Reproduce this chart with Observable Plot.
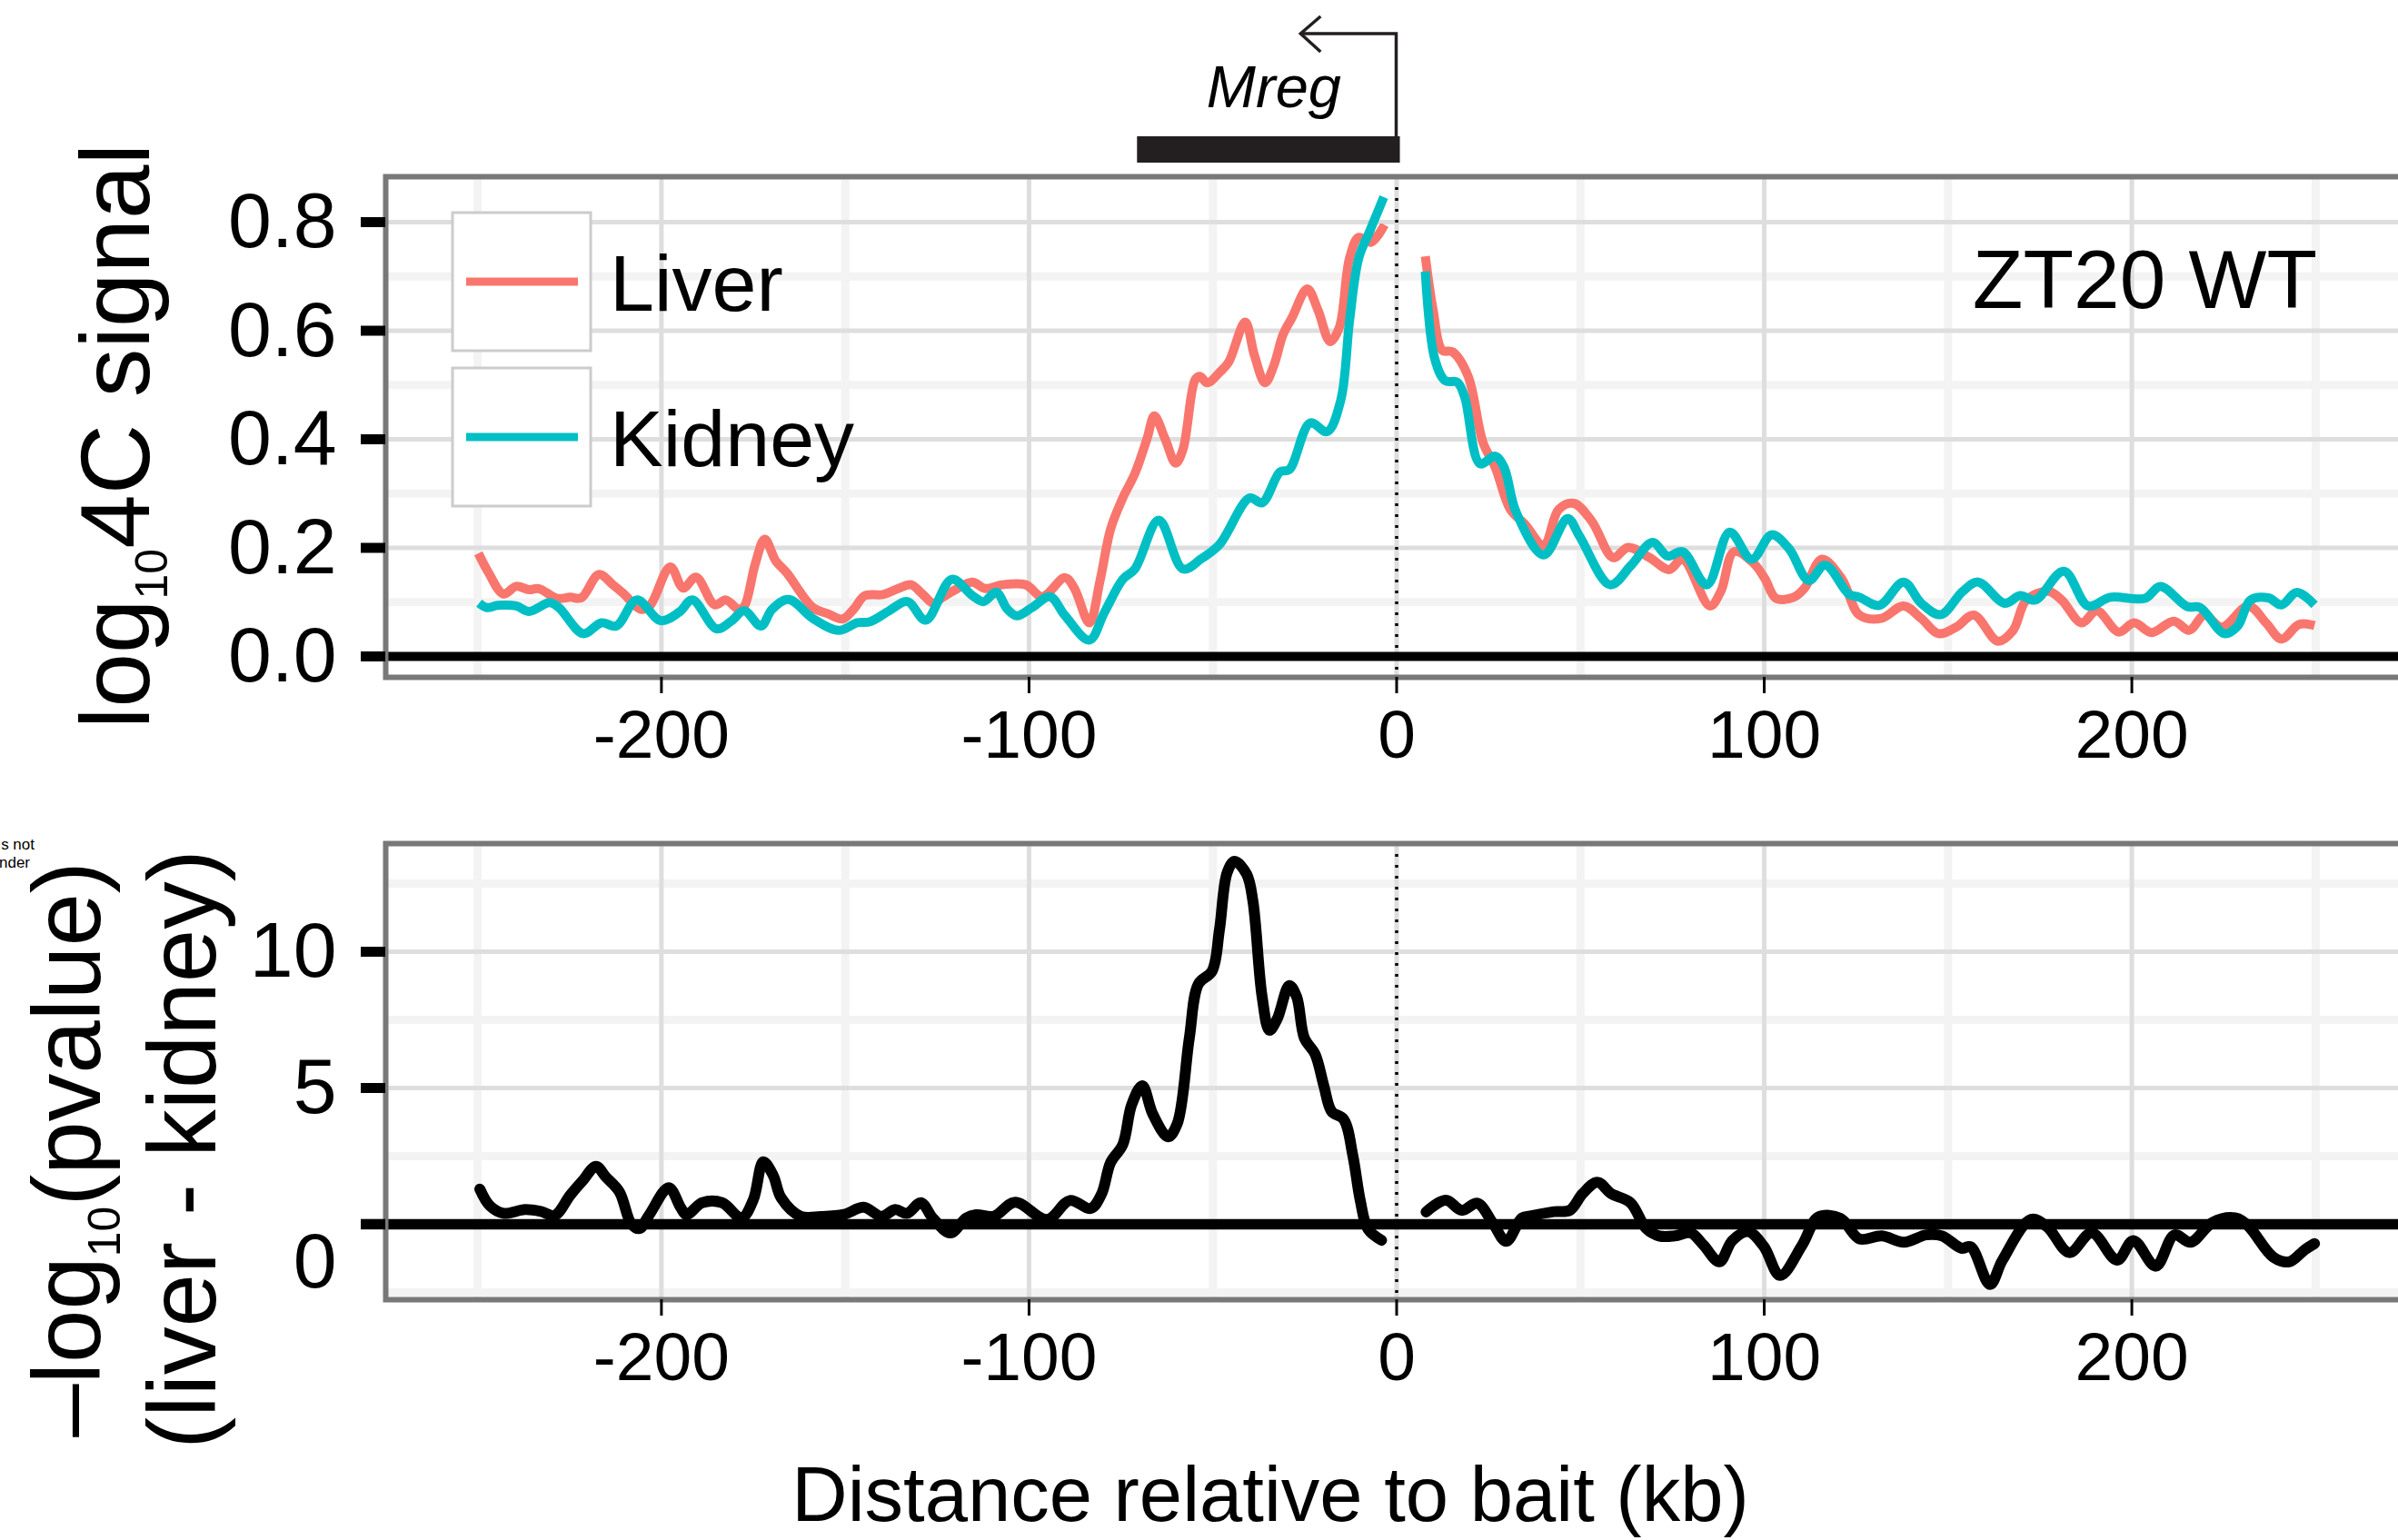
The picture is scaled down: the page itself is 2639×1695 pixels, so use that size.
<!DOCTYPE html>
<html>
<head>
<meta charset="utf-8">
<script src="https://cdn.jsdelivr.net/npm/d3@7"></script>
<script src="https://cdn.jsdelivr.net/npm/@observablehq/plot@0.6"></script>
<style>
  html, body { margin: 0; padding: 0; background: #fff; overflow: hidden; width: 2639px; height: 1695px; }
  #top { position: absolute; left: 0; top: 0; }
  #bottom { position: absolute; left: 0; top: 850px; }
</style>
</head>
<body>
<div id="top"></div>
<div id="bottom"></div>
<script>
// ---------------- DATA ----------------
const seriesNames = ["Liver", "Kidney"];
const seriesColors = ["#F8766D", "#00BFC4"];
const panelLabel = "ZT20 WT";

const xMajor = [-200, -100, 0, 100, 200];
const xMinor = [-250, -150, -50, 50, 150, 250];
const topYMajor = [0, 0.2, 0.4, 0.6, 0.8];
const topYMinor = [0.1, 0.3, 0.5, 0.7];
const botYMajor = [0, 5, 10];
const botYMinor = [-2.5, 2.5, 7.5, 12.5];

// gene annotation (kb relative to bait)
const gene = { name: "Mreg", start: -70.5, end: 1.0, tss: 0, arrowLen: 26 };

// log10 4C signal, Liver (left and right of the bait)
const liverLeft = [
  [-249.8,0.190],[-247,0.154],[-243,0.115],[-239.5,0.129],[-236,0.123],[-233.4,0.125],[-228.4,0.107],
  [-224.8,0.109],[-221.8,0.108],[-217,0.151],[-213.2,0.132],[-210.2,0.115],[-205.7,0.087],[-203.2,0.093],
  [-197.6,0.165],[-194.1,0.126],[-190.6,0.146],[-185.5,0.095],[-182.5,0.104],[-179,0.087],[-177.5,0.092],
  [-174.5,0.170],[-171.9,0.216],[-168.9,0.176],[-165.9,0.154],[-158.8,0.090],[-154.8,0.079],[-150.7,0.069],
  [-147.7,0.087],[-144.7,0.112],[-139.7,0.114],[-135.6,0.125],[-132.1,0.132],[-129,0.115],[-126,0.098],
  [-123.5,0.109],[-120,0.123],[-115.4,0.137],[-111.9,0.125],[-107.4,0.132],[-100.9,0.132],[-96.4,0.110],
  [-90.2,0.145],[-87.7,0.126],[-83.6,0.062],[-80.7,0.139],[-77.8,0.235],[-74.5,0.292],[-71.2,0.337],
  [-67.9,0.401],[-65.9,0.443],[-63,0.401],[-60.1,0.356],[-58.1,0.382],[-54.8,0.510],[-53.5,0.516],
  [-51.5,0.504],[-48.2,0.523],[-45.7,0.542],[-41.2,0.616],[-38.7,0.555],[-35.8,0.504],[-33.4,0.536],
  [-30.9,0.593],[-28.4,0.625],[-24.3,0.677],[-21.4,0.638],[-18.1,0.580],[-15.6,0.606],[-12.8,0.734],
  [-10.3,0.772],[-7,0.763],[-3.3,0.795]
];
const liverRight = [
  [7.8,0.737],[9.9,0.639],[12.4,0.564],[15.2,0.561],[19.4,0.517],[23.5,0.394],[26.8,0.349],[30.9,0.271],
  [35,0.243],[40,0.204],[44.1,0.271],[48.2,0.282],[53.1,0.249],[58.9,0.182],[63,0.201],[68.8,0.182],
  [74.1,0.160],[77.8,0.179],[85.2,0.093],[88.2,0.120],[91.8,0.193],[97.2,0.171],[100.2,0.143],[103.2,0.107],
  [108,0.109],[111,0.126],[115.7,0.179],[121.1,0.143],[125.9,0.076],[131.8,0.070],[137.9,0.093],[142.7,0.070],
  [147.4,0.042],[152.2,0.054],[157,0.076],[163.6,0.028],[167.7,0.048],[171.3,0.104],[177.3,0.120],[180.9,0.104],
  [186.3,0.062],[190.5,0.084],[196.4,0.045],[200.6,0.062],[205.4,0.044],[211.4,0.065],[215.6,0.048],[219.8,0.076],
  [224.5,0.054],[231.7,0.093],[236.5,0.062],[240.7,0.032],[245.5,0.059],[249.7,0.057]
];
// Kidney
const kidneyLeft = [
  [-249.6,0.098],[-247.5,0.090],[-244.5,0.094],[-239.5,0.093],[-236,0.083],[-230.4,0.099],[-227.9,0.090],
  [-221.3,0.042],[-216.3,0.062],[-212.3,0.056],[-206.7,0.104],[-200.2,0.066],[-195.1,0.082],[-191.6,0.104],
  [-185,0.051],[-181,0.065],[-177.5,0.084],[-172.9,0.056],[-169.9,0.087],[-165.4,0.105],[-158.8,0.070],
  [-151.8,0.048],[-146.7,0.062],[-143.2,0.064],[-138.1,0.084],[-133.1,0.101],[-128.1,0.067],[-121,0.142],
  [-115.4,0.112],[-112.4,0.101],[-108.9,0.118],[-105.9,0.087],[-103.3,0.075],[-99.2,0.090],[-94.3,0.110],
  [-90.2,0.075],[-83.6,0.030],[-79.5,0.081],[-74.5,0.142],[-71.2,0.161],[-64.7,0.251],[-58.1,0.161],
  [-53.1,0.180],[-48.2,0.206],[-40,0.292],[-36.6,0.283],[-31.7,0.340],[-29.2,0.344],[-23.5,0.430],
  [-18.9,0.414],[-15.2,0.472],[-12.8,0.619],[-10.3,0.734],[-7.4,0.782],[-3.5,0.846]
];
const kidneyRight = [
  [7.8,0.709],[10.3,0.550],[13.2,0.508],[16.5,0.505],[18.5,0.478],[22.7,0.355],[26.8,0.369],[29.2,0.349],
  [32.5,0.266],[40,0.187],[46.5,0.254],[49.8,0.221],[58.1,0.132],[63.8,0.168],[69.6,0.210],[73.7,0.185],
  [77.8,0.193],[84.4,0.132],[90.6,0.229],[96.6,0.179],[102,0.224],[106.7,0.199],[112.1,0.140],[116.6,0.168],
  [123,0.115],[125.9,0.109],[131.3,0.094],[137.9,0.137],[142.7,0.098],[148,0.077],[154,0.120],[158.2,0.137],
  [165.4,0.098],[169.6,0.112],[173.7,0.104],[181.5,0.157],[188.1,0.093],[194.1,0.109],[203.6,0.107],[207.8,0.129],
  [215,0.092],[218.6,0.090],[225.2,0.042],[228.8,0.056],[232.3,0.104],[237.1,0.108],[240.7,0.095],[244.9,0.118],
  [249.7,0.095]
];
// -log10(pvalue) (liver - kidney)
const pvalLeft = [
  [-249.4,1.29],[-246.7,0.68],[-243,0.40],[-237.1,0.54],[-232.8,0.47],[-229.1,0.32],[-224.8,1.07],[-221.6,1.57],
  [-217.8,2.12],[-215.1,1.73],[-211.4,1.18],[-208.2,0.01],[-206,-0.16],[-203.3,0.35],[-198,1.34],[-194.8,0.62],
  [-193.2,0.35],[-188.9,0.79],[-183.5,0.79],[-178.2,0.23],[-175,0.90],[-172.3,2.29],[-169.6,1.79],[-167.4,0.96],
  [-162.1,0.29],[-156.7,0.28],[-150.3,0.36],[-145,0.62],[-140.1,0.29],[-136.4,0.54],[-133.2,0.40],[-129.4,0.79],
  [-126.2,0.23],[-121.4,-0.32],[-117.1,0.23],[-114.4,0.35],[-109.6,0.29],[-103.8,0.81],[-95.1,0.17],[-88.9,0.87],
  [-83.2,0.58],[-80.3,1.10],[-77.8,2.27],[-74.5,2.92],[-72.1,4.38],[-69.2,5.08],[-66.3,4.03],[-62.2,3.21],
  [-59.7,3.68],[-56.4,6.83],[-53.9,8.82],[-50.2,9.29],[-48.2,10.81],[-46.1,12.91],[-44.1,13.32],[-40.8,12.85],
  [-39.1,11.86],[-36.6,8.35],[-34.6,7.12],[-32.5,7.53],[-29.2,8.76],[-27.2,8.35],[-25.1,6.83],[-22.2,6.25],
  [-19.8,5.08],[-17.7,4.14],[-14.4,3.85],[-11.9,2.51],[-9.9,0.87],[-7.8,-0.18],[-4.1,-0.59]
];
const pvalRight = [
  [8.0,0.45],[13.4,0.88],[17.7,0.51],[22,0.77],[26.3,0.01],[29.8,-0.63],[34.1,0.23],[36.7,0.31],[42.8,0.46],
  [47.1,0.51],[50.6,1.12],[54.6,1.54],[58.4,1.12],[63.6,0.79],[67.9,-0.16],[71.4,-0.43],[75.7,-0.43],[80,-0.32],
  [83.5,-0.77],[87.8,-1.38],[91.3,-0.60],[95.6,-0.27],[99.9,-0.82],[104.3,-1.88],[110.3,-0.77],[114.7,0.26],
  [120.7,0.22],[125.9,-0.54],[132,-0.43],[138,-0.66],[144.1,-0.39],[148.4,-0.43],[153.6,-0.88],[156.2,-0.83],
  [161.4,-2.21],[164.8,-1.32],[172.6,0.18],[177,-0.10],[183,-1.04],[189.1,-0.32],[196,-1.32],[200.4,-0.60],
  [206.5,-1.54],[211.6,-0.39],[216,-0.66],[222,0.07],[228.1,0.23],[231.5,-0.04],[238.5,-1.21],[242.8,-1.38],
  [247.1,-0.93],[249.7,-0.71]
];

// ---------------- BUILD ----------------
const FONT = "'Liberation Sans', Arial, Helvetica, sans-serif";
const rows = (series, seg, arr) => arr.map(([x, y]) => ({ series, seg, x, y }));
const topRows = [
  ...rows("Liver", "L", liverLeft), ...rows("Liver", "R", liverRight),
  ...rows("Kidney", "L", kidneyLeft), ...rows("Kidney", "R", kidneyRight)
];
const pRows = [...rows("p", "L", pvalLeft), ...rows("p", "R", pvalRight)];

const W = 2660, ML = 424, MR = 11;
const common = {
  width: W, marginLeft: ML, marginRight: MR,
  x: { domain: [-275, 275] },
  style: { fontFamily: FONT, background: "white", maxWidth: "none" }
};
const gridMarks = (yMinor, yMajor) => [
  Plot.gridX(xMinor, { stroke: "#f3f3f3", strokeOpacity: 1, strokeWidth: 9 }),
  Plot.gridY(yMinor, { stroke: "#f3f3f3", strokeOpacity: 1, strokeWidth: 9 }),
  Plot.gridX(xMajor, { stroke: "#dedede", strokeOpacity: 1, strokeWidth: 5 }),
  Plot.gridY(yMajor, { stroke: "#dedede", strokeOpacity: 1, strokeWidth: 5 })
];
const xAxis = Plot.axisX(xMajor, {
  tickSize: 18, tickPadding: 17, strokeWidth: 3, fontSize: 75, fill: "black",
  tickFormat: d => String(d), label: null
});

const topPlot = Plot.plot({
  ...common,
  height: 850, marginTop: 194, marginBottom: 105,
  y: { domain: [-0.0385, 0.8837] },
  color: { domain: seriesNames, range: seriesColors },
  marks: [
    ...gridMarks(topYMinor, topYMajor),
    Plot.ruleX([0], { stroke: "black", strokeWidth: 3.5, strokeDasharray: "3,9" }),
    Plot.line(topRows, {
      x: "x", y: "y", z: d => d.series + d.seg, stroke: "series",
      strokeWidth: 10, curve: "catmull-rom", strokeLinejoin: "round", strokeLinecap: "butt"
    }),
    Plot.ruleY([0], { stroke: "black", strokeWidth: 10 }),
    Plot.frame({ stroke: "#787878", strokeWidth: 6 }),
    Plot.axisY(topYMajor, {
      tickSize: 27, tickPadding: 27, strokeWidth: 11, fontSize: 86, fill: "black",
      tickFormat: d3.format(".1f"), label: null
    }),
    xAxis
  ]
});
document.getElementById("top").appendChild(topPlot);

const botPlot = Plot.plot({
  ...common,
  height: 845, marginTop: 78, marginBottom: 265,
  y: { domain: [-2.77, 13.97] },
  marks: [
    ...gridMarks(botYMinor, botYMajor),
    Plot.ruleX([0], { stroke: "black", strokeWidth: 3.5, strokeDasharray: "3,9" }),
    Plot.line(pRows, {
      x: "x", y: "y", z: "seg", stroke: "black",
      strokeWidth: 12, curve: "catmull-rom", strokeLinejoin: "round"
    }),
    Plot.ruleY([0], { stroke: "black", strokeWidth: 11.5 }),
    Plot.frame({ stroke: "#787878", strokeWidth: 6 }),
    Plot.axisY(botYMajor.filter(d => d !== 0), {
      tickSize: 27, tickPadding: 27, strokeWidth: 11, fontSize: 86, fill: "black", label: null
    }),
    Plot.axisY([0], { tickSize: 0, tickPadding: 54, dy: 42, fontSize: 86, fill: "black", label: null }),
    Plot.axisY([0], { tickSize: 27, strokeWidth: 11.5, tickFormat: () => "", label: null }),
    xAxis
  ]
});
document.getElementById("bottom").appendChild(botPlot);

// ---------------- TEXT / ANNOTATIONS ----------------
const ts = d3.select(topPlot);
const sx = topPlot.scale("x");

// y title (top)
{
  const t = ts.append("text").attr("transform", "translate(164,480) rotate(-90)")
    .attr("text-anchor", "middle").attr("font-size", 107).attr("fill", "black");
  t.append("tspan").text("log");
  t.append("tspan").attr("dy", 20).attr("font-size", 50).text("10");
  t.append("tspan").attr("dy", -20).text("4C signal");
}
// panel label
ts.append("text").attr("x", 2550).attr("y", 339).attr("text-anchor", "end")
  .attr("font-size", 91).attr("fill", "black").text(panelLabel);

// legend
seriesNames.forEach((name, i) => {
  const y0 = 234 + i * 171;
  const g = ts.append("g");
  g.append("rect").attr("x", 498).attr("y", y0).attr("width", 152).attr("height", 152)
    .attr("fill", "white").attr("stroke", "#cccccc").attr("stroke-width", 3);
  g.append("line").attr("x1", 513).attr("x2", 636).attr("y1", y0 + 76).attr("y2", y0 + 76)
    .attr("stroke", seriesColors[i]).attr("stroke-width", 9);
  g.append("text").attr("x", 671).attr("y", y0 + 108).attr("text-anchor", "start")
    .attr("font-size", 88).attr("fill", "black").text(name);
});

// gene annotation
{
  const x0 = sx.apply(gene.start), x1 = sx.apply(gene.end), xt = sx.apply(gene.tss), xa = sx.apply(gene.tss - gene.arrowLen);
  ts.append("rect").attr("x", x0).attr("y", 150).attr("width", x1 - x0).attr("height", 29).attr("fill", "#231f20");
  ts.append("path").attr("d", `M${xt},150V37H${xa}`).attr("fill", "none")
    .attr("stroke", "#231f20").attr("stroke-width", 3.5);
  ts.append("path").attr("d", `M${xa + 22},18L${xa},37L${xa + 22},57`).attr("fill", "none")
    .attr("stroke", "#231f20").attr("stroke-width", 3.5);
  ts.append("text").attr("x", (x0 + x1) / 2 + 6).attr("y", 118).attr("text-anchor", "middle")
    .attr("font-size", 65).attr("font-style", "italic").attr("fill", "black").text(gene.name);
}

// bottom texts
const bs = d3.select(botPlot);
{
  const t1 = bs.append("text").attr("transform", "translate(110,415) rotate(-90)")
    .attr("text-anchor", "middle").attr("font-size", 105).attr("fill", "black");
  t1.append("tspan").text("\u2013log");
  t1.append("tspan").attr("dy", 22).attr("font-size", 50).text("10");
  t1.append("tspan").attr("dy", -22).text("(pvalue)");
  bs.append("text").attr("transform", "translate(237,415) rotate(-90)")
    .attr("text-anchor", "middle").attr("font-size", 105).attr("fill", "black").text("(liver - kidney)");
  bs.append("text").attr("x", 1398).attr("y", 824).attr("text-anchor", "middle")
    .attr("font-size", 85).attr("fill", "black").text("Distance relative to bait (kb)");
  bs.append("text").attr("x", 38).attr("y", 85).attr("text-anchor", "end")
    .attr("font-size", 17).attr("fill", "black").text("s not");
  bs.append("text").attr("x", 33).attr("y", 105).attr("text-anchor", "end")
    .attr("font-size", 17).attr("fill", "black").text("nder");
}
</script>
</body>
</html>
